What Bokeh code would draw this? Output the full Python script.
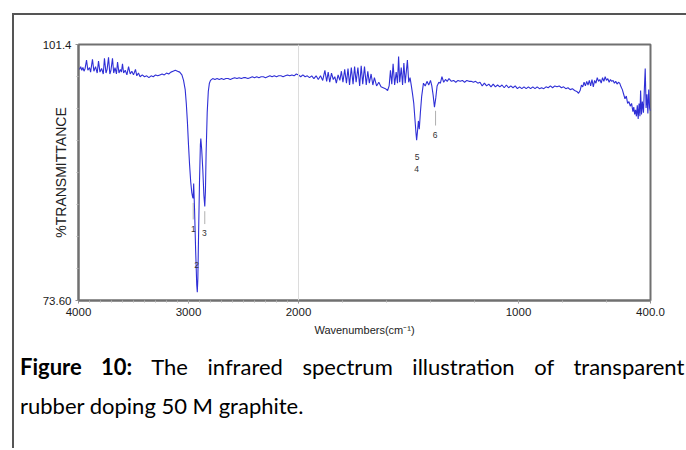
from bokeh.plotting import figure
from bokeh.models import (Range1d, FixedTicker, Span, ColumnDataSource, Div, Spacer)
from bokeh.layouts import column, row
from bokeh.core.properties import value
from bokeh.embed import file_html
from bokeh.resources import INLINE

# ---------------- data ----------------
# (wavenumber cm-1, %T) 4000 -> 2000 (compressed part of the axis)
spectrum_high = [
    (4000, 98.9), (3990, 98.7), (3980, 99.0), (3970, 98.6), (3960, 98.9), (3950, 98.5),
    (3940, 98.8), (3927, 99.7), (3915, 98.6), (3900, 98.9), (3890, 98.4), (3873, 99.8),
    (3860, 98.5), (3845, 99.0), (3830, 98.3), (3818, 99.6), (3805, 98.4), (3790, 98.8),
    (3775, 98.2), (3764, 99.9), (3750, 98.3), (3740, 98.7), (3727, 100.0), (3715, 98.2),
    (3705, 98.6), (3691, 99.9), (3680, 98.3), (3668, 98.9), (3655, 98.2), (3645, 99.5),
    (3632, 98.3), (3620, 98.7), (3610, 98.4), (3600, 99.3), (3590, 98.3), (3575, 98.6),
    (3560, 98.1), (3545, 99.0), (3530, 98.2), (3515, 98.5), (3500, 98.1), (3482, 98.7),
    (3470, 98.0), (3455, 98.3), (3440, 97.9), (3420, 98.1), (3400, 97.9), (3380, 98.0),
    (3360, 97.8), (3340, 98.0), (3320, 97.9), (3300, 98.1), (3280, 98.0), (3260, 98.1),
    (3240, 98.2), (3220, 98.1), (3200, 98.3), (3180, 98.2), (3160, 98.4), (3140, 98.5),
    (3120, 98.6), (3100, 98.5), (3080, 98.4), (3060, 98.1), (3045, 97.5), (3030, 96.5),
    (3020, 95.0), (3010, 93.0), (3000, 90.5), (2990, 88.3), (2980, 86.5), (2970, 85.3),
    (2962, 84.8), (2958, 84.7), (2953, 86.3), (2945, 83.5), (2935, 79.0), (2925, 75.3),
    (2920, 74.5), (2915, 76.0), (2908, 81.0), (2900, 86.5), (2892, 90.5), (2888, 91.2),
    (2880, 90.0), (2870, 87.8), (2860, 85.0), (2852, 83.8), (2846, 85.5), (2840, 89.5),
    (2830, 94.0), (2820, 96.3), (2810, 97.2), (2800, 97.5), (2780, 97.7), (2760, 97.6),
    (2740, 97.7), (2720, 97.6), (2700, 97.7), (2680, 97.6), (2660, 97.7), (2640, 97.7),
    (2620, 97.6), (2600, 97.7), (2580, 97.8), (2560, 97.7), (2540, 97.8), (2520, 97.7),
    (2500, 97.8), (2480, 97.8), (2460, 97.7), (2440, 97.8), (2420, 97.9), (2400, 97.8),
    (2380, 97.9), (2360, 97.8), (2340, 97.9), (2320, 97.9), (2300, 97.8), (2280, 97.9),
    (2260, 98.0), (2240, 97.9), (2220, 98.0), (2200, 97.9), (2180, 98.0), (2160, 98.0),
    (2140, 97.9), (2120, 98.0), (2100, 98.1), (2080, 98.0), (2060, 98.1), (2040, 98.0),
    (2020, 98.2),
]

# (wavenumber cm-1, %T) 2000 -> 400
spectrum_low = [
    (2000, 98.1), (1990, 97.9), (1980, 98.1), (1970, 97.9), (1960, 98.0), (1950, 97.8),
    (1940, 98.0), (1930, 97.7), (1920, 98.0), (1910, 97.6), (1900, 98.0), (1890, 97.5),
    (1880, 98.6), (1872, 97.4), (1865, 98.4), (1858, 97.3), (1850, 98.3), (1842, 97.6),
    (1835, 97.9), (1828, 97.2), (1820, 98.1), (1812, 97.5), (1805, 98.5), (1798, 97.3),
    (1790, 98.7), (1782, 97.2), (1775, 98.8), (1768, 97.0), (1760, 98.9), (1752, 97.1),
    (1745, 99.0), (1738, 97.3), (1730, 98.9), (1722, 96.9), (1715, 99.1), (1708, 97.1),
    (1700, 99.0), (1692, 97.0), (1685, 98.5), (1678, 97.2), (1670, 98.2), (1662, 97.0),
    (1655, 97.8), (1645, 96.9), (1635, 97.3), (1625, 96.8), (1615, 96.7), (1605, 96.6),
    (1595, 96.4), (1588, 96.9), (1582, 98.6), (1576, 97.1), (1570, 99.3), (1563, 97.0),
    (1556, 98.4), (1550, 97.2), (1545, 100.1), (1540, 97.3), (1533, 98.9), (1527, 97.0),
    (1521, 99.4), (1515, 97.2), (1505, 99.7), (1499, 97.3), (1493, 97.8), (1487, 96.9),
    (1482, 96.1), (1476, 95.0), (1471, 93.4), (1466, 91.8), (1463, 91.0), (1459, 92.0),
    (1455, 93.1), (1451, 92.2), (1446, 94.0), (1440, 95.8), (1432, 97.2), (1424, 96.9),
    (1416, 97.4), (1408, 97.0), (1400, 97.5), (1394, 96.9), (1388, 95.9), (1382, 94.6),
    (1376, 95.6), (1370, 96.9), (1362, 97.3), (1355, 97.2), (1348, 97.9), (1340, 97.3),
    (1332, 97.6), (1324, 97.4), (1316, 97.7), (1305, 97.4), (1295, 97.5), (1285, 97.3),
    (1275, 97.5), (1265, 97.4), (1255, 97.5), (1245, 97.3), (1235, 97.5), (1225, 97.4),
    (1215, 97.4), (1205, 97.3), (1195, 97.4), (1185, 97.2), (1175, 97.3), (1165, 96.9),
    (1155, 97.2), (1145, 96.9), (1135, 97.1), (1125, 96.8), (1115, 97.1), (1105, 96.8),
    (1095, 97.0), (1085, 96.8), (1075, 97.0), (1065, 96.7), (1055, 97.0), (1045, 96.7),
    (1035, 96.9), (1025, 96.7), (1015, 96.9), (1005, 96.6), (995, 96.8), (985, 96.6),
    (975, 96.8), (965, 96.6), (955, 96.8), (945, 96.6), (935, 96.8), (925, 96.6),
    (915, 96.8), (905, 96.6), (895, 96.7), (885, 96.6), (875, 96.8), (865, 96.7),
    (855, 96.9), (845, 96.7), (835, 96.9), (825, 96.8), (815, 96.9), (805, 96.7),
    (795, 96.8), (785, 96.6), (775, 96.7), (765, 96.5), (755, 96.6), (745, 96.4),
    (735, 96.3), (727, 96.1), (720, 96.4), (714, 97.0), (708, 96.8), (702, 97.3),
    (696, 96.9), (690, 97.4), (684, 97.0), (678, 97.5), (672, 96.9), (666, 97.6),
    (660, 96.8), (654, 97.5), (648, 97.2), (642, 97.8), (636, 97.4), (630, 97.6),
    (624, 97.2), (618, 97.8), (612, 97.4), (606, 97.9), (600, 97.5), (594, 97.7),
    (588, 97.3), (582, 97.6), (576, 97.4), (570, 97.5), (564, 97.2), (558, 97.4),
    (552, 97.1), (546, 97.3), (540, 97.2), (534, 96.8), (528, 96.5), (522, 96.0),
    (516, 95.5), (510, 95.8), (504, 95.0), (498, 95.2), (492, 94.7), (486, 95.0),
    (480, 94.1), (476, 94.6), (472, 93.8), (468, 94.3), (464, 93.6), (460, 94.8),
    (456, 93.3), (452, 95.0), (448, 93.6), (445, 96.4), (441, 93.8), (437, 95.2),
    (432, 94.0), (428, 96.5), (424, 98.8), (420, 94.5), (416, 96.0), (412, 93.9),
    (408, 96.5), (404, 94.5), (400, 94.2),
]

# peak labels: (text, wavenumber, %T of the label)
peak_labels = ["1", "2", "3", "5", "4", "6"]
peak_wn = [2955, 2927, 2855, 1461, 1463, 1379]
peak_t = [81.4, 77.5, 80.9, 89.2, 87.9, 91.6]

# little leader marks under peaks
marker_wn = [2957, 2852, 1377]
marker_top = [84.2, 83.3, 94.2]
marker_bot = [82.4, 81.9, 92.6]

x_tick_wn = [4000, 3000, 2000, 1000, 400]
x_tick_text = ["4000", "3000", "2000", "1000", "400.0"]
y_tick_vals = [73.6, 101.4]
y_tick_text = ["73.60", "101.4"]

caption_bold = "Figure 10:"
caption_line1 = "The infrared spectrum illustration of transparent"
caption_line2 = "rubber doping 50 M graphite."


# FTIR axis: 4000-2000 drawn at half the scale of 2000-400
def axis_pos(wn):
    return (4000 - wn) * 0.5 if wn >= 2000 else 1000 + (2000 - wn)


wn_all = [w for w, _ in spectrum_high] + [w for w, _ in spectrum_low]
t_all = [t for _, t in spectrum_high] + [t for _, t in spectrum_low]

FONT = "Liberation Sans"

p = figure(width=672, height=335, output_backend="svg", toolbar_location=None,
           x_range=Range1d(0, 2600), y_range=Range1d(73.6, 101.4),
           min_border_left=64, min_border_right=36, min_border_top=29,
           min_border_bottom=50)
p.background_fill_color = "white"
p.border_fill_color = "white"
p.outline_line_color = "#707070"
p.outline_line_width = 2
p.grid.visible = False

# scale-change line at 2000
p.add_layout(Span(location=axis_pos(2000), dimension="height",
                  line_color="#dcdcdc", line_width=1))

p.line([axis_pos(w) for w in wn_all], t_all, line_color="#2f2fd6", line_width=1.1)

p.segment(x0=[axis_pos(w) for w in marker_wn], y0=marker_top,
          x1=[axis_pos(w) for w in marker_wn], y1=marker_bot,
          line_color="#b0b0b0", line_width=1)

src = ColumnDataSource(dict(x=[axis_pos(w) for w in peak_wn], y=peak_t, t=peak_labels))
p.text(x="x", y="y", text="t", source=src, text_font=value(FONT),
       text_font_size="8.5px", text_color="#333333", text_align="center",
       text_baseline="middle")

# axes
xa = p.xaxis[0]
xa.ticker = FixedTicker(ticks=[axis_pos(w) for w in x_tick_wn],
                        minor_ticks=[axis_pos(w) for w in range(3900, 2000, -100)] +
                                    [axis_pos(w) for w in range(1800, 400, -200)])
xa.major_label_overrides = {axis_pos(w): s for w, s in zip(x_tick_wn, x_tick_text)}
xa.axis_label = "Wavenumbers(cm⁻¹)"
ya = p.yaxis[0]
ya.ticker = FixedTicker(ticks=y_tick_vals,
                        minor_ticks=[73.6 + i * 3.475 for i in range(1, 8)])
ya.major_label_overrides = {v: s for v, s in zip(y_tick_vals, y_tick_text)}
ya.axis_label = "%TRANSMITTANCE"
ya.axis_label_standoff = -29

for ax in (xa, ya):
    ax.axis_line_color = "#707070"
    ax.axis_line_width = 2
    ax.major_tick_line_color = "#909090"
    ax.minor_tick_line_color = "#b0b0b0"
    ax.major_tick_out = 3
    ax.major_tick_in = 0
    ax.minor_tick_out = 2
    ax.minor_tick_in = 0
    ax.major_label_text_font = FONT
    ax.major_label_text_font_size = "11.5px"
    ax.major_label_text_color = "#1a1a1a"
    ax.axis_label_text_font = FONT
    ax.axis_label_text_font_style = "normal"
    ax.axis_label_text_color = "#222222"
    ax.major_label_standoff = 4
xa.axis_label_text_font_size = "11px"
xa.axis_label_standoff = 5
ya.axis_label_text_font_size = "14px"

# caption under the chart
caption_html = (
    '<div style="font-family: Lato, sans-serif; font-size: 22px; line-height: 39px; '
    'color: #000; padding-left: 6px; margin-top: -3px; width: 720px;">'
    '<div style="white-space: nowrap; word-spacing: 14px;">'
    f'<b>{caption_bold}</b> {caption_line1}</div>'
    f'<div style="white-space: nowrap;">{caption_line2}</div></div>'
)
caption = Div(text=caption_html, width=672, height=98,
              styles={"overflow": "hidden", "margin": "0", "padding": "0"})

# box lines around the figure (left and top)
hline = Div(text="", width=672, height=2,
            styles={"background-color": "#555555", "margin": "0", "padding": "0"})
vline = Div(text="", width=2, height=435,
            styles={"background-color": "#555555", "margin": "0", "padding": "0"})

layout = column(Spacer(width=686, height=13),
                row(Spacer(width=12, height=10), vline, column(hline, p, caption)))

open("out.html", "w").write(file_html(layout, INLINE))
